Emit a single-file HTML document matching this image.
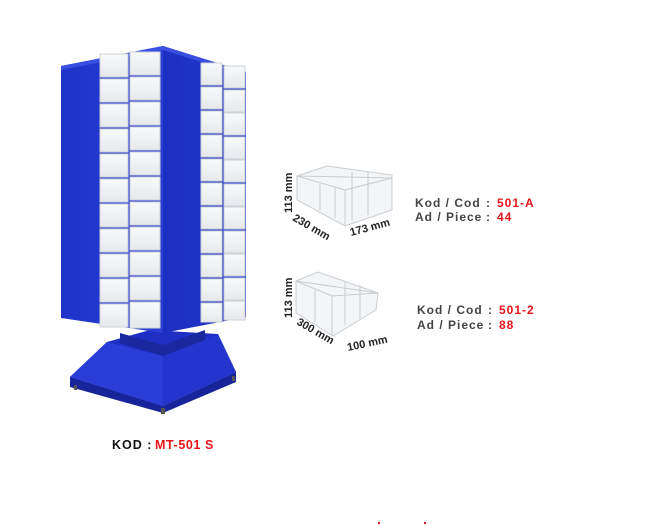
<!DOCTYPE html>
<html><head><style>
html,body{margin:0;padding:0;background:#fff;}
svg{display:block;}
text{font-family:"Liberation Sans",Arial,sans-serif;font-weight:bold;}
</style></head><body>
<svg width="660" height="524" viewBox="0 0 660 524" xmlns="http://www.w3.org/2000/svg">
<defs>
<linearGradient id="lf" x1="0" x2="1"><stop offset="0" stop-color="#1f33c8"/><stop offset="1" stop-color="#2a3fd8"/></linearGradient>
<linearGradient id="rf" x1="0" x2="1"><stop offset="0" stop-color="#1c2fc0"/><stop offset="1" stop-color="#2238cc"/></linearGradient>
<linearGradient id="dr" x1="0" y1="0" x2="0" y2="1"><stop offset="0" stop-color="#f8f9fa"/><stop offset="1" stop-color="#e6e9ec"/></linearGradient>
</defs>
<!-- base -->
<polygon points="70,377 163,406 236,372 236,382 163,413 70,387" fill="#18259a"/>
<polygon points="107,342 150,330 218,334 236,372 163,406 70,377" fill="#1f2fc4"/>
<polygon points="107,342 163,356 218,334 236,372 163,406 70,377" fill="#2335cc"/>
<polygon points="107,342 163,356 163,406 70,377" fill="#2a3dd6"/>
<polygon points="120,333 163,345 205,330 205,340 163,356 120,343" fill="#1a28a0"/>
<rect x="74" y="385" width="3" height="5" fill="#555"/>
<rect x="161" y="408" width="4" height="6" fill="#555"/>
<rect x="232" y="376" width="3" height="5" fill="#555"/>
<!-- cabinet faces -->
<polygon points="61,66 163,46 163,333 61,318" fill="url(#lf)"/>
<polygon points="163,46 246,72 246,317 163,333" fill="url(#rf)"/>
<polygon points="61,66 163,46 246,72 246,76 163,50 61,70" fill="#3a4fe0"/>
<!-- left drawers -->
<g stroke="#cdd1d6" stroke-width="1" fill="url(#dr)">
<rect x="100" y="54" width="28" height="23"/><rect x="130" y="52" width="30" height="23"/>
<rect x="100" y="79" width="28" height="23"/><rect x="130" y="77" width="30" height="23"/>
<rect x="100" y="104" width="28" height="23"/><rect x="130" y="102" width="30" height="23"/>
<rect x="100" y="129" width="28" height="23"/><rect x="130" y="127" width="30" height="23"/>
<rect x="100" y="154" width="28" height="23"/><rect x="130" y="152" width="30" height="23"/>
<rect x="100" y="179" width="28" height="23"/><rect x="130" y="177" width="30" height="23"/>
<rect x="100" y="204" width="28" height="23"/><rect x="130" y="202" width="30" height="23"/>
<rect x="100" y="229" width="28" height="23"/><rect x="130" y="227" width="30" height="23"/>
<rect x="100" y="254" width="28" height="23"/><rect x="130" y="252" width="30" height="23"/>
<rect x="100" y="279" width="28" height="23"/><rect x="130" y="277" width="30" height="23"/>
<rect x="100" y="304" width="28" height="23"/><rect x="130" y="302" width="30" height="26"/>
</g>
<!-- right drawers -->
<g stroke="#cdd1d6" stroke-width="1" fill="url(#dr)">
<rect x="201" y="63" width="21" height="22"/><rect x="224" y="66" width="21" height="22"/>
<rect x="201" y="87" width="21" height="22"/><rect x="224" y="90" width="21" height="22"/>
<rect x="201" y="111" width="21" height="22"/><rect x="224" y="113" width="21" height="22"/>
<rect x="201" y="135" width="21" height="22"/><rect x="224" y="137" width="21" height="22"/>
<rect x="201" y="159" width="21" height="22"/><rect x="224" y="160" width="21" height="22"/>
<rect x="201" y="183" width="21" height="22"/><rect x="224" y="184" width="21" height="22"/>
<rect x="201" y="207" width="21" height="22"/><rect x="224" y="207" width="21" height="22"/>
<rect x="201" y="231" width="21" height="22"/><rect x="224" y="231" width="21" height="22"/>
<rect x="201" y="255" width="21" height="22"/><rect x="224" y="254" width="21" height="22"/>
<rect x="201" y="279" width="21" height="22"/><rect x="224" y="278" width="21" height="22"/>
<rect x="201" y="303" width="21" height="19"/><rect x="224" y="301" width="21" height="19"/>
</g>
<text x="112" y="449" font-size="12.5" fill="#111" letter-spacing="1">KOD :</text>
<text x="155" y="449" font-size="12.5" fill="#e8141c" letter-spacing="0.6">MT-501 S</text>
<!-- bin 1 -->
<g fill="#f3f5f7" stroke="#c9cdd2" stroke-width="1">
<polygon points="297,176 327,166 392,175 392,210 345,226 297,200"/>
<polygon points="297,176 345,190 392,178" fill="none"/>
<line x1="320" y1="184" x2="320" y2="210"/><line x1="335" y1="188" x2="335" y2="218"/>
<line x1="352" y1="172" x2="352" y2="220"/><line x1="368" y1="172" x2="368" y2="215"/>
<line x1="345" y1="190" x2="345" y2="226"/>
</g>
<text transform="translate(292,213) rotate(-90)" font-size="11" fill="#222" font-weight="normal">113 mm</text>
<text transform="translate(292,220) rotate(30)" font-size="11" fill="#222" font-weight="normal">230 mm</text>
<text transform="translate(351,236) rotate(-15)" font-size="11" fill="#222" font-weight="normal">173 mm</text>
<!-- bin 2 -->
<g fill="#f3f5f7" stroke="#c9cdd2" stroke-width="1">
<polygon points="296,281 318,272 378,293 376,310 333,336 296,313"/>
<polygon points="296,281 332,296 378,293" fill="none"/>
<line x1="315" y1="290" x2="315" y2="322"/><line x1="332" y1="296" x2="332" y2="336"/>
<line x1="345" y1="281" x2="345" y2="325"/><line x1="360" y1="285" x2="360" y2="318"/>
</g>
<text transform="translate(292,318) rotate(-90)" font-size="11" fill="#222" font-weight="normal">113 mm</text>
<text transform="translate(296,324) rotate(30)" font-size="11" fill="#222" font-weight="normal">300 mm</text>
<text transform="translate(348,351) rotate(-12)" font-size="11" fill="#222" font-weight="normal">100 mm</text>
<!-- labels -->
<g font-size="12" letter-spacing="1">
<text x="415" y="207" fill="#444">Kod / Cod</text><text x="486" y="207" fill="#444">:</text><text x="497" y="207" fill="#e8141c">501-A</text>
<text x="415" y="221" fill="#444">Ad / Piece</text><text x="486" y="221" fill="#444">:</text><text x="497" y="221" fill="#e8141c">44</text>
<text x="417" y="314" fill="#444">Kod / Cod</text><text x="488" y="314" fill="#444">:</text><text x="499" y="314" fill="#e8141c">501-2</text>
<text x="417" y="329" fill="#444">Ad / Piece</text><text x="488" y="329" fill="#444">:</text><text x="499" y="329" fill="#e8141c">88</text>
</g>
<rect x="378" y="522" width="2" height="2" fill="#e8141c"/>
<rect x="424" y="522" width="2" height="2" fill="#e8141c"/>
</svg>
</body></html>
